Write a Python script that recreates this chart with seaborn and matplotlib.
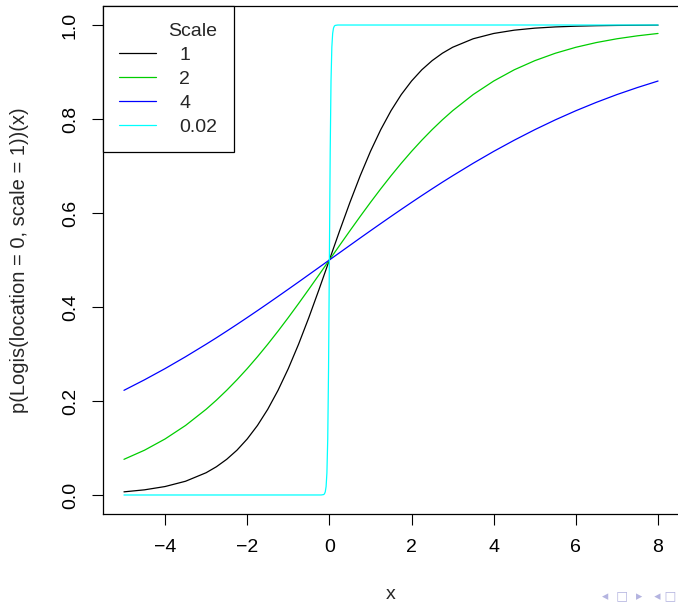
import pandas as pd
import matplotlib
matplotlib.use("Agg")
import matplotlib.pyplot as plt
import seaborn as sns
from matplotlib.lines import Line2D

# values
x_wide = [-5, -4.5, -4, -3.5, -3, -2.75, -2.5, -2.25, -2, -1.75, -1.5, -1.25, -1,
          -0.75, -0.5, -0.25, 0, 0.25, 0.5, 0.75, 1, 1.25, 1.5, 1.75, 2, 2.25, 2.5,
          2.75, 3, 3.5, 4, 4.5, 5, 5.5, 6, 6.5, 7, 7.5, 8]
p_scale1 = [0.0067, 0.0110, 0.0180, 0.0293, 0.0474, 0.0601, 0.0759, 0.0953, 0.1192,
            0.1480, 0.1824, 0.2227, 0.2689, 0.3208, 0.3775, 0.4378, 0.5, 0.5622,
            0.6225, 0.6792, 0.7311, 0.7773, 0.8176, 0.8520, 0.8808, 0.9047, 0.9241,
            0.9399, 0.9526, 0.9707, 0.9820, 0.9890, 0.9933, 0.9959, 0.9975, 0.9985,
            0.9991, 0.9994, 0.9997]
p_scale2 = [0.0759, 0.0953, 0.1192, 0.1480, 0.1824, 0.2018, 0.2227, 0.2451, 0.2689,
            0.2942, 0.3208, 0.3486, 0.3775, 0.4073, 0.4378, 0.4688, 0.5, 0.5312,
            0.5622, 0.5927, 0.6225, 0.6514, 0.6792, 0.7058, 0.7311, 0.7549, 0.7773,
            0.7982, 0.8176, 0.8520, 0.8808, 0.9047, 0.9241, 0.9399, 0.9526, 0.9627,
            0.9707, 0.9770, 0.9820]
p_scale4 = [0.2227, 0.2451, 0.2689, 0.2942, 0.3208, 0.3345, 0.3486, 0.3629, 0.3775,
            0.3923, 0.4073, 0.4225, 0.4378, 0.4532, 0.4688, 0.4844, 0.5, 0.5156,
            0.5312, 0.5468, 0.5622, 0.5775, 0.5927, 0.6077, 0.6225, 0.6371, 0.6514,
            0.6655, 0.6792, 0.7058, 0.7311, 0.7549, 0.7773, 0.7982, 0.8176, 0.8355,
            0.8520, 0.8670, 0.8808]
x_steep = [-5, -0.2, -0.14, -0.12, -0.1, -0.08, -0.06, -0.04, -0.02, 0, 0.02, 0.04,
           0.06, 0.08, 0.1, 0.12, 0.14, 0.2, 8]
p_scale002 = [0.0, 0.00005, 0.0009, 0.0025, 0.0067, 0.018, 0.047, 0.119, 0.269, 0.5,
              0.731, 0.881, 0.953, 0.982, 0.9933, 0.9975, 0.9991, 0.99995, 1.0]

scales = ["1", "2", "4", "0.02"]
colors = {"1": "black", "2": "#00cd00", "4": "blue", "0.02": "cyan"}


def main():
    rows = []
    for s, xs, ps in [("1", x_wide, p_scale1), ("2", x_wide, p_scale2),
                      ("4", x_wide, p_scale4), ("0.02", x_steep, p_scale002)]:
        for xv, pv in zip(xs, ps):
            rows.append({"x": xv, "p": pv, "Scale": s})
    df = pd.DataFrame(rows)

    sns.set_style("ticks")
    plt.rcParams["font.family"] = ["Liberation Sans", "DejaVu Sans"]
    plt.rcParams["font.size"] = 14

    fig = plt.figure(figsize=(6.78, 6.05), dpi=100)
    ax = fig.add_axes([102.6 / 678, 1 - 513.8 / 605, (679.4 - 102.6) / 678, (513.8 - 6.2) / 605])

    sns.lineplot(data=df, x="x", y="p", hue="Scale", hue_order=scales,
                 palette=colors, estimator=None, sort=True, linewidth=0.9,
                 legend=False, ax=ax)

    ax.set_xlim(-5.52, 8.52)
    ax.set_ylim(-0.04, 1.04)
    ax.set_xticks([-4, -2, 0, 2, 4, 6, 8])
    ax.set_xticklabels(["\u22124", "\u22122", "0", "2", "4", "6", "8"])
    ax.set_yticks([0, 0.2, 0.4, 0.6, 0.8, 1.0])
    ax.set_yticklabels(["0.0", "0.2", "0.4", "0.6", "0.8", "1.0"], rotation=90, va="center")
    ax.tick_params(direction="out", length=8, width=0.8, colors="black", labelsize=14, pad=9)
    ax.tick_params(axis="x", pad=10)
    for sp in ax.spines.values():
        sp.set_color("black")
        sp.set_linewidth(0.9)
    ax.set_xlabel("x", fontsize=14, labelpad=22)
    ax.set_ylabel("p(Logis(location = 0, scale = 1))(x)", fontsize=14.5, labelpad=24)

    handles = [Line2D([], [], color=colors[s], linewidth=0.9) for s in scales]
    leg = ax.legend(handles, scales, title="Scale", loc="upper left",
                    bbox_to_anchor=(0, 1), borderaxespad=0, frameon=True,
                    fancybox=False, edgecolor="black", fontsize=14,
                    title_fontsize=14, handlelength=1.9, handletextpad=1.2,
                    labelspacing=0.33, borderpad=0.85, alignment="right")
    leg.get_frame().set_linewidth(0.9)
    leg.get_frame().set_alpha(1)

    fig.text(0.998, 0.005, "\u25c2  \u25a1  \u25b8   \u25c2 \u25a1", color="#b4b4e0",
             fontsize=9, ha="right", va="bottom", family="DejaVu Sans")

    fig.savefig("out.png", dpi=100)


if __name__ == "__main__":
    main()
